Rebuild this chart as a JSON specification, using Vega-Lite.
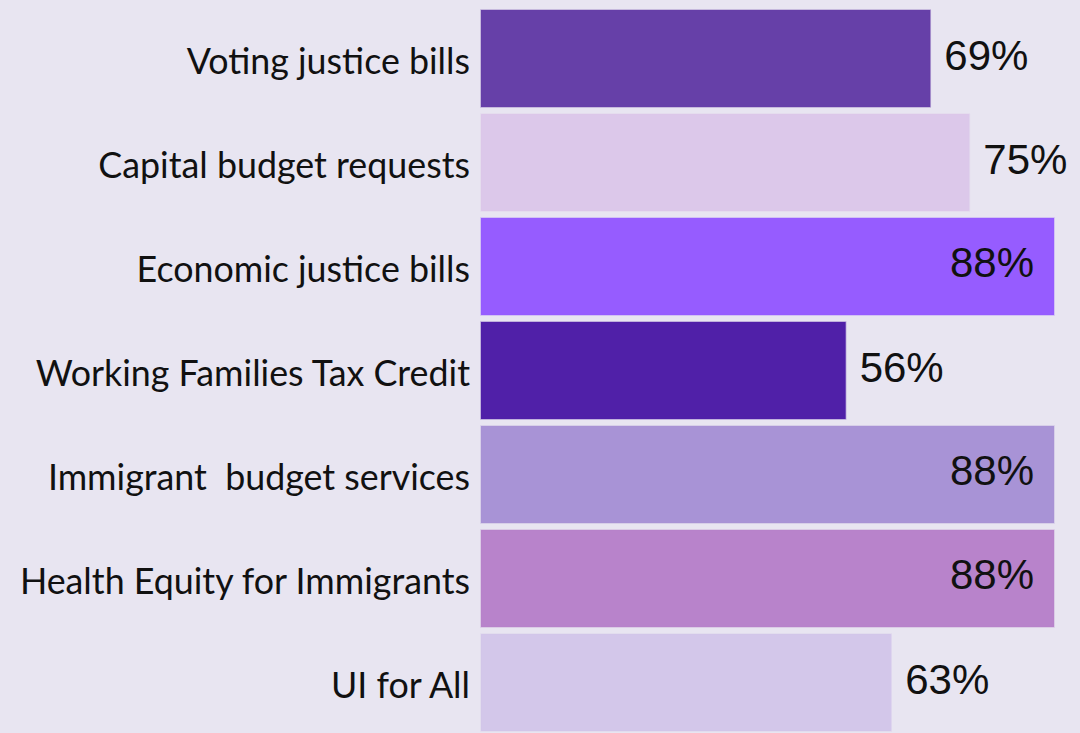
{
  "$schema": "https://vega.github.io/schema/vega-lite/v6.json",
  "width": 1080,
  "height": 733,
  "autosize": "none",
  "padding": 0,
  "background": "#E8E5F1",
  "config": {"view": {"stroke": null}},
  "data": {
    "values": [
      {"label": "Voting justice bills", "value": 69, "color": "#6640A8"},
      {"label": "Capital budget requests", "value": 75, "color": "#DCC8EA"},
      {"label": "Economic justice bills", "value": 88, "color": "#965CFF"},
      {"label": "Working Families Tax Credit", "value": 56, "color": "#5020A8"},
      {"label": "Immigrant \u00a0budget services", "value": 88, "color": "#A893D6"},
      {"label": "Health Equity for Immigrants", "value": 88, "color": "#B883CB"},
      {"label": "UI for All", "value": 63, "color": "#D3C7EA"}
    ]
  },
  "transform": [{"calculate": "datum.value + '%'", "as": "pct"}],
  "encoding": {
    "y": {
      "field": "label",
      "type": "nominal",
      "sort": null,
      "axis": null,
      "scale": {"range": [6.5, 734.5], "paddingInner": 0.067, "paddingOuter": 0.0335}
    }
  },
  "layer": [
    {
      "mark": {"type": "bar", "strokeWidth": 1.5, "strokeOpacity": 0.35},
      "encoding": {
        "x": {"field": "value", "type": "quantitative", "axis": null, "scale": {"domain": [0, 88], "range": [481, 1054], "nice": false, "zero": true}},
        "color": {"field": "color", "type": "nominal", "scale": null},
        "stroke": {"field": "color", "type": "nominal", "scale": null}
      }
    },
    {
      "mark": {"type": "text", "align": "right", "baseline": "middle", "dx": -11, "dy": 4, "font": "Lato", "fontSize": 35.8, "color": "#111111"},
      "encoding": {
        "x": {"datum": 0, "type": "quantitative"},
        "text": {"field": "label", "type": "nominal"}
      }
    },
    {
      "transform": [{"filter": "datum.value < 80"}],
      "mark": {"type": "text", "align": "left", "baseline": "middle", "dx": 14, "dy": -2, "font": "Liberation Sans", "fontSize": 42, "color": "#111111"},
      "encoding": {
        "x": {"field": "value", "type": "quantitative"},
        "text": {"field": "pct", "type": "nominal"}
      }
    },
    {
      "transform": [{"filter": "datum.value >= 80"}],
      "mark": {"type": "text", "align": "right", "baseline": "middle", "dx": -20, "dy": -3, "font": "Liberation Sans", "fontSize": 42, "color": "#111111"},
      "encoding": {
        "x": {"field": "value", "type": "quantitative"},
        "text": {"field": "pct", "type": "nominal"}
      }
    }
  ]
}
